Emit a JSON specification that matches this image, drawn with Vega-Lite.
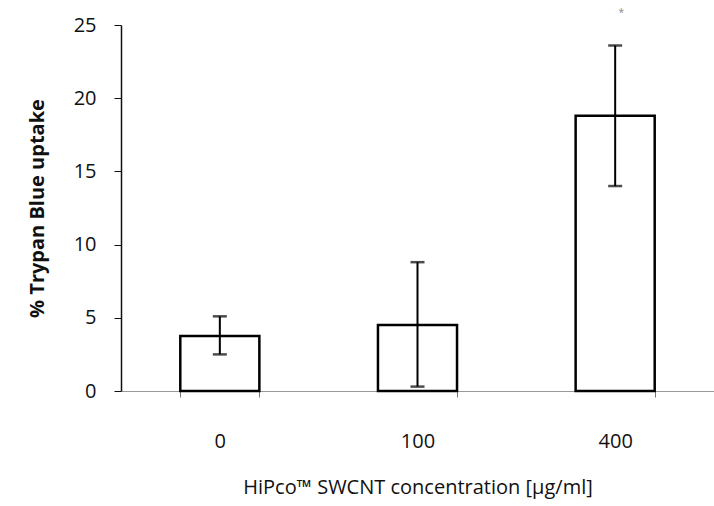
{
  "$schema": "https://vega.github.io/schema/vega-lite/v6.json",
  "width": 593,
  "height": 366,
  "autosize": "none",
  "padding": {"left": 121, "top": 25, "right": 0, "bottom": 115},
  "background": "white",
  "config": {"view": {"stroke": null}, "font": "Open Sans"},
  "data": {"values": [
    {"conc": "0", "mean": 3.75, "lo": 2.5, "hi": 5.1, "sig": ""},
    {"conc": "100", "mean": 4.5, "lo": 0.3, "hi": 8.8, "sig": ""},
    {"conc": "400", "mean": 18.8, "lo": 14.0, "hi": 23.6, "sig": "*"}
  ]},
  "encoding": {
    "x": {
      "field": "conc", "type": "nominal", "sort": null,
      "scale": {"paddingInner": 0.6, "paddingOuter": 0.3},
      "axis": {
        "title": "HiPco™ SWCNT concentration [µg/ml]",
        "titleFont": "Open Sans", "titleFontSize": 20, "titleFontWeight": "normal", "titleColor": "#111",
        "titlePadding": 26,
        "labelAngle": 0, "labelFontSize": 20, "labelColor": "#111", "labelPadding": 34,
        "tickBand": "extent", "tickColor": "#777", "tickSize": 6,
        "domainColor": "#999", "domainWidth": 1
      }
    }
  },
  "layer": [
    {
      "mark": {"type": "bar", "fill": "white", "stroke": "black", "strokeWidth": 2.5},
      "encoding": {
        "y": {
          "field": "mean", "type": "quantitative",
          "scale": {"domain": [0, 25], "nice": false},
          "axis": {
            "title": "% Trypan Blue uptake",
            "titleFontSize": 20, "titleFontWeight": "bold", "titleColor": "#111", "titlePadding": 26,
            "values": [0, 5, 10, 15, 20, 25],
            "grid": false, "labelFontSize": 20, "labelColor": "#111", "labelPadding": 18,
            "tickSize": 7, "tickColor": "#111", "domainColor": "#111", "domainWidth": 1.5
          }
        }
      }
    },
    {
      "mark": {"type": "rule", "color": "black", "strokeWidth": 2},
      "encoding": {
        "y": {"field": "lo", "type": "quantitative"},
        "y2": {"field": "hi"}
      }
    },
    {
      "mark": {"type": "tick", "color": "black", "thickness": 2.5, "size": 14},
      "encoding": {"y": {"field": "hi", "type": "quantitative"}}
    },
    {
      "mark": {"type": "tick", "color": "black", "thickness": 2.5, "size": 14},
      "encoding": {"y": {"field": "lo", "type": "quantitative"}}
    },
    {
      "mark": {"type": "text", "color": "#888", "fontSize": 10, "dy": -32, "dx": 6},
      "encoding": {
        "y": {"field": "hi", "type": "quantitative"},
        "text": {"field": "sig"}
      }
    }
  ]
}
